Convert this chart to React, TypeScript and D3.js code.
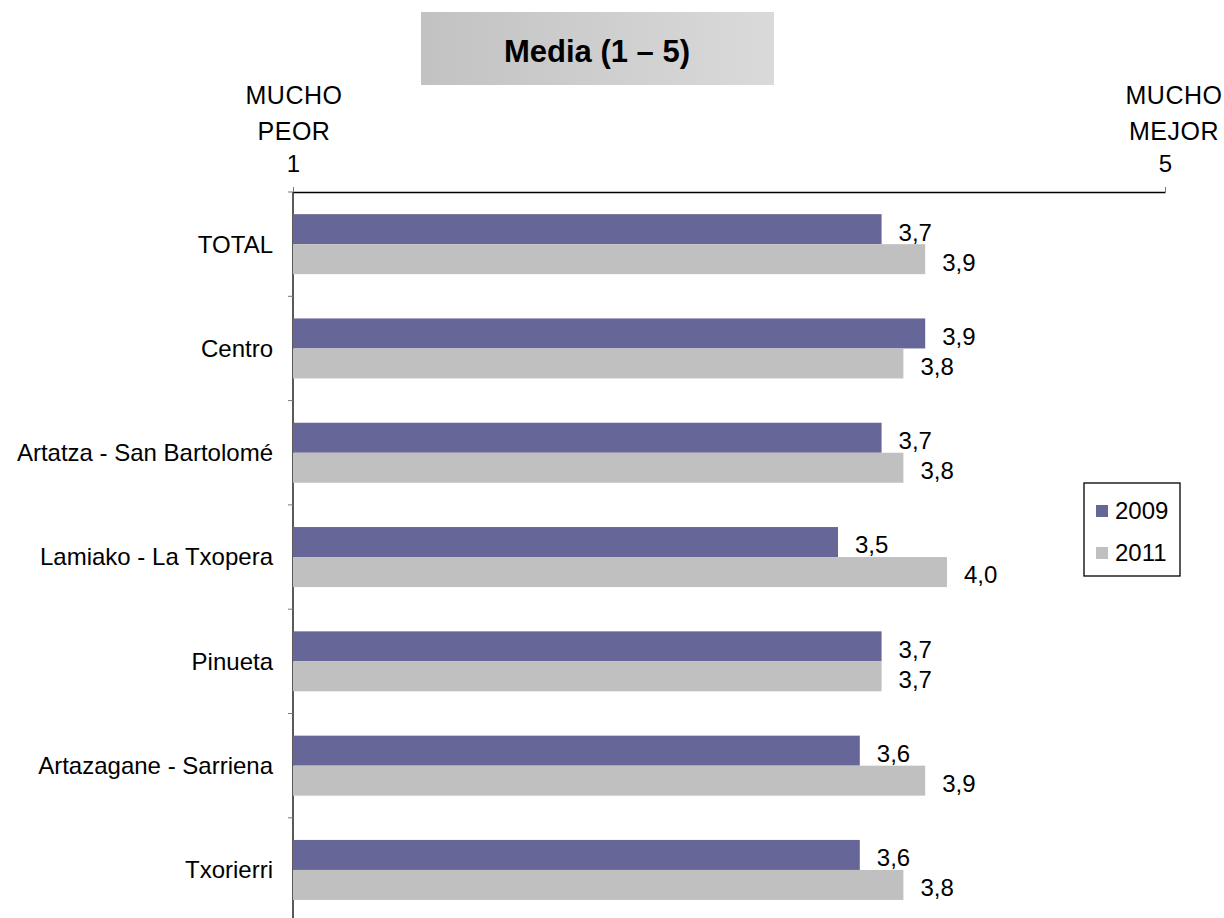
import React, { useEffect, useRef } from "react";
import * as d3 from "d3";

// Chart data
const categories = [
  "TOTAL",
  "Centro",
  "Artatza - San Bartolomé",
  "Lamiako - La Txopera",
  "Pinueta",
  "Artazagane - Sarriena",
  "Txorierri",
];
const values2009 = [3.7, 3.9, 3.7, 3.5, 3.7, 3.6, 3.6];
const values2011 = [3.9, 3.8, 3.8, 4.0, 3.7, 3.9, 3.8];
const seriesNames = ["2009", "2011"];
const seriesColors = ["#666699", "#c0c0c0"];
const axisTicks = [1, 5];

const width = 1224;
const height = 918;

const App: React.FC = () => {
  const svgRef = useRef<SVGSVGElement>(null);

  useEffect(() => {
    if (!svgRef.current) return;
    const svg = d3.select(svgRef.current);
    svg.selectAll("*").remove();

    const font = "'Liberation Sans', Arial, sans-serif";
    const fs = "24px";
    const left = 293;
    const right = 1165;
    const top = 192;
    const bandStep = 104.3;
    const bottom = top + bandStep * categories.length;

    const x = d3.scaleLinear().domain([1, 5]).range([left, right]);
    const y = d3.scaleBand<string>().domain(categories).range([top, bottom]);
    const inner = d3.scaleBand<string>().domain(seriesNames).range([0, 60]);
    const yOffset = (bandStep - 60) / 2;

    // Title box
    const grad = svg.append("defs").append("linearGradient").attr("id", "titleGrad");
    grad.append("stop").attr("offset", "0%").attr("stop-color", "#c2c2c2");
    grad.append("stop").attr("offset", "100%").attr("stop-color", "#dadada");
    svg.append("rect")
      .attr("x", 421).attr("y", 12).attr("width", 353).attr("height", 73)
      .attr("fill", "url(#titleGrad)");
    svg.append("text")
      .attr("x", 597).attr("y", 62)
      .attr("text-anchor", "middle")
      .style("font-family", font).style("font-size", "31px").style("font-weight", "bold")
      .text("Media (1 – 5)");

    // Axis end labels
    const endLabels = [
      { x: x(1) + 1, lines: ["MUCHO", "PEOR"] },
      { x: x(5) + 9, lines: ["MUCHO", "MEJOR"] },
    ];
    endLabels.forEach(lbl => {
      lbl.lines.forEach((t, i) => {
        svg.append("text")
          .attr("x", lbl.x).attr("y", 104 + i * 36)
          .attr("text-anchor", "middle")
          .style("font-family", font).style("font-size", "25px")
          .style("letter-spacing", "0.5px")
          .text(t);
      });
    });

    // Top axis
    const topAxis = svg.append("g")
      .attr("transform", `translate(0,${top})`)
      .call(d3.axisTop(x).tickValues(axisTicks).tickSize(5).tickSizeOuter(0).tickFormat(d3.format("d")));
    topAxis.select(".domain").attr("stroke", "#000").attr("stroke-width", 1.3);
    topAxis.selectAll(".tick line").attr("stroke", "#777");
    topAxis.selectAll(".tick text")
      .attr("y", -20)
      .style("font-family", font).style("font-size", fs).attr("fill", "#000");

    // Left axis line + boundary ticks
    svg.append("line")
      .attr("x1", left).attr("x2", left).attr("y1", top).attr("y2", bottom)
      .attr("stroke", "#000").attr("stroke-width", 1.3);
    categories.forEach((c, i) => {
      const yy = top + i * bandStep;
      svg.append("line")
        .attr("x1", left - 5).attr("x2", left).attr("y1", yy).attr("y2", yy)
        .attr("stroke", "#777");
    });

    // Category labels
    svg.append("g").selectAll("text").data(categories).join("text")
      .attr("x", 273)
      .attr("y", d => (y(d) ?? 0) + y.bandwidth() / 2)
      .attr("dy", "0.35em")
      .attr("text-anchor", "end")
      .style("font-family", font).style("font-size", fs)
      .text(d => d);

    // Bars
    const series = [values2009, values2011];
    series.forEach((vals, si) => {
      const name = seriesNames[si];
      const g = svg.append("g");
      g.selectAll("rect").data(vals).join("rect")
        .attr("x", left)
        .attr("y", (d, i) => (y(categories[i]) ?? 0) + yOffset + (inner(name) ?? 0))
        .attr("width", d => x(d) - left)
        .attr("height", inner.bandwidth())
        .attr("fill", seriesColors[si]);
      g.selectAll("text").data(vals).join("text")
        .attr("x", d => x(d) + 17)
        .attr("y", (d, i) => (y(categories[i]) ?? 0) + yOffset + (inner(name) ?? 0) + inner.bandwidth() / 2 + 3)
        .attr("dy", "0.35em")
        .style("font-family", font).style("font-size", fs)
        .text(d => d.toFixed(1).replace(".", ","));
    });

    // Legend
    const legend = svg.append("g").attr("transform", "translate(1084,483)");
    legend.append("rect")
      .attr("width", 96).attr("height", 93)
      .attr("fill", "#fff").attr("stroke", "#000").attr("stroke-width", 1.3);
    seriesNames.forEach((s, i) => {
      legend.append("rect")
        .attr("x", 12).attr("y", 22 + i * 42).attr("width", 12).attr("height", 12)
        .attr("fill", seriesColors[i]);
      legend.append("text")
        .attr("x", 31).attr("y", 28 + i * 42)
        .attr("dy", "0.35em")
        .style("font-family", font).style("font-size", fs)
        .text(s);
    });
  }, []);

  return <svg ref={svgRef} width={width} height={height} style={{ position: "absolute", left: 0, top: 0 }}></svg>;
};

export default App;
